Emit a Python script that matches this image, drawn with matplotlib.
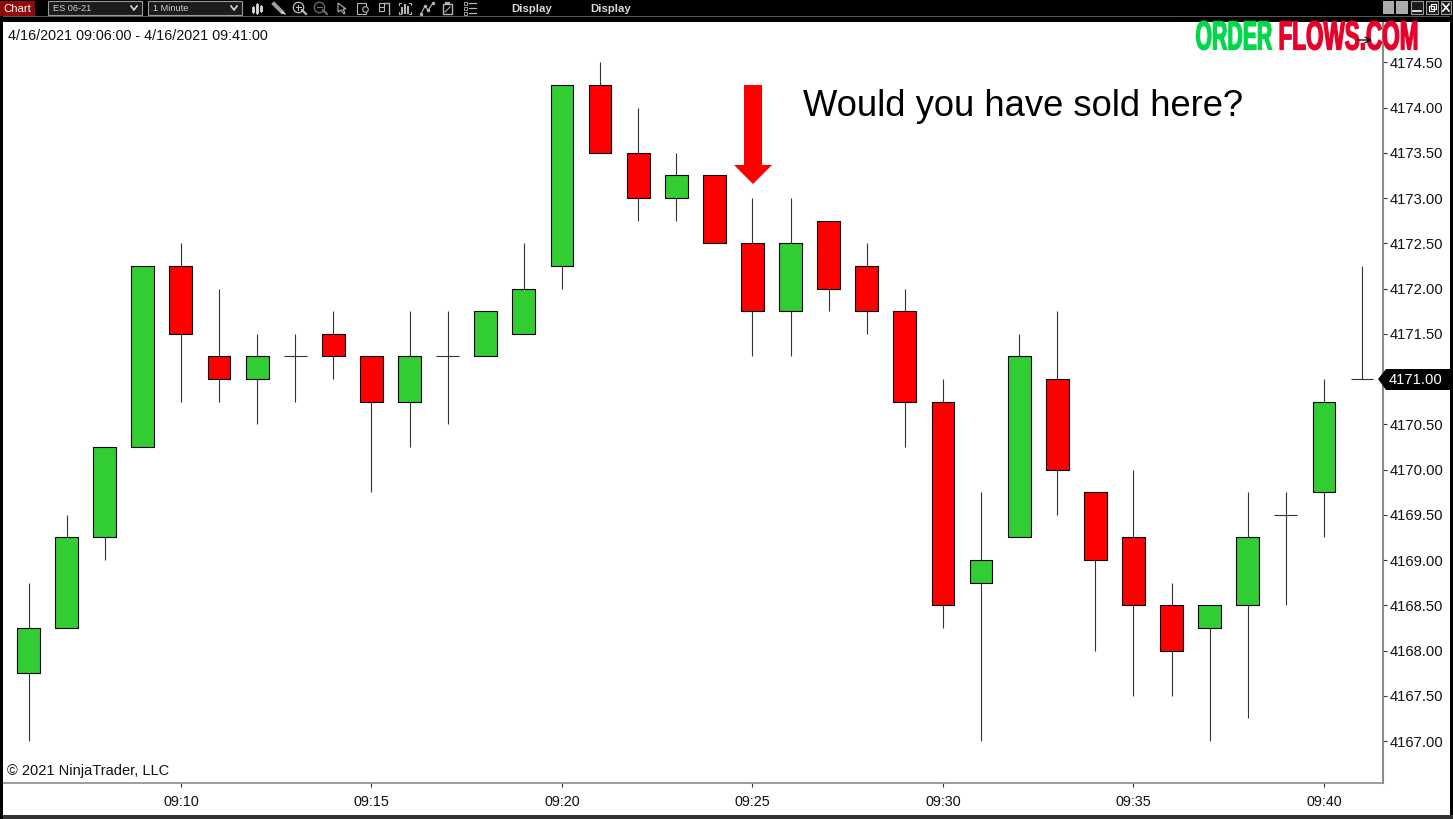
"""Recreate the ES 06-21 one minute NinjaTrader chart."""
import matplotlib
matplotlib.use("Agg")
import matplotlib.pyplot as plt
import matplotlib.patheffects as pe
from matplotlib.patches import Polygon, Rectangle
from matplotlib.transforms import Affine2D

plt.rcParams["font.family"] = ["Liberation Sans", "DejaVu Sans"]

W, H = 1453, 819

# one bar per minute, 09:06 to 09:41
minutes = list(range(6, 42))
opens = [4167.75, 4168.25, 4169.25, 4170.25, 4172.25, 4171.25, 4171.00, 4171.25, 4171.50,
         4171.25, 4170.75, 4171.25, 4171.25, 4171.50, 4172.25, 4174.25, 4173.50, 4173.00,
         4173.25, 4172.50, 4171.75, 4172.75, 4172.25, 4171.75, 4170.75, 4168.75, 4169.25,
         4171.00, 4169.75, 4169.25, 4168.50, 4168.25, 4168.50, 4169.50, 4169.75, 4171.00]
highs = [4168.75, 4169.50, 4170.25, 4172.25, 4172.50, 4172.00, 4171.50, 4171.50, 4171.75,
         4171.25, 4171.75, 4171.75, 4171.75, 4172.50, 4174.25, 4174.50, 4174.00, 4173.50,
         4173.25, 4173.00, 4173.00, 4172.75, 4172.50, 4172.00, 4171.00, 4169.75, 4171.50,
         4171.75, 4169.75, 4170.00, 4168.75, 4168.50, 4169.75, 4169.75, 4171.00, 4172.25]
lows = [4167.00, 4168.25, 4169.00, 4170.25, 4170.75, 4170.75, 4170.50, 4170.75, 4171.00,
        4169.75, 4170.25, 4170.50, 4171.25, 4171.50, 4172.00, 4173.50, 4172.75, 4172.75,
        4172.50, 4171.25, 4171.25, 4171.75, 4171.50, 4170.25, 4168.25, 4167.00, 4169.25,
        4169.50, 4168.00, 4167.50, 4167.50, 4167.00, 4167.25, 4168.50, 4169.25, 4171.00]
closes = [4168.25, 4169.25, 4170.25, 4172.25, 4171.50, 4171.00, 4171.25, 4171.25, 4171.25,
          4170.75, 4171.25, 4171.25, 4171.75, 4172.00, 4174.25, 4173.50, 4173.00, 4173.25,
          4172.50, 4171.75, 4172.50, 4172.00, 4171.75, 4170.75, 4168.50, 4169.00, 4171.25,
          4170.00, 4169.00, 4168.50, 4168.00, 4168.50, 4169.25, 4169.50, 4170.75, 4171.00]

price_ticks = [4167.0 + 0.5 * i for i in range(16)]
time_ticks = [10, 15, 20, 25, 30, 35, 40]
time_labels = ["09:10", "09:15", "09:20", "09:25", "09:30", "09:35", "09:40"]
last_price = 4171.00

UP = "#32CD32"
DOWN = "#FF0000"
GREY = "#8c8c8c"
ICON = "#b4b4b4"


class StretchY(pe.AbstractPathEffect):
    """Stretch drawn text vertically about its baseline and fatten it, the logo font is tall and heavy."""

    def __init__(self, y0, sy, lw, color):
        super().__init__()
        self.y0, self.sy, self.lw, self.color = y0, sy, lw, color

    def draw_path(self, renderer, gc, tpath, affine, rgbFace=None):
        stretch = Affine2D().translate(0, -self.y0).scale(1, self.sy).translate(0, self.y0)
        gc0 = renderer.new_gc()
        gc0.copy_properties(gc)
        gc0.set_linewidth(self.lw)
        gc0.set_foreground(self.color)
        renderer.draw_path(gc0, tpath, affine + stretch, rgbFace)
        gc0.restore()


fig = plt.figure(figsize=(W / 100, H / 100), dpi=100, facecolor="white")

# ── price pane ────────────────────────────────────────────
ax = fig.add_axes([3 / W, 1 - 783 / H, 1380 / W, 761 / H])
ax.set_xlim(5.33, 41.55)
ax.set_ylim(4166.536, 4174.946)
ax.set_facecolor("white")

for m, o, h, l, c in zip(minutes, opens, highs, lows, closes):
    ax.vlines(m, l, h, color="#333333", lw=0.8, zorder=2)
    if o == c:
        ax.hlines(o, m - 0.3, m + 0.3, color="#333333", lw=0.8, zorder=3)
    else:
        ax.bar(m, abs(c - o), bottom=min(o, c), width=0.6, zorder=3,
               color=UP if c > o else DOWN, edgecolor="black", linewidth=0.8)

ax.spines["top"].set_visible(False)
ax.spines["left"].set_visible(False)
ax.spines["right"].set_color(GREY)
ax.spines["bottom"].set_color(GREY)
ax.spines["right"].set_linewidth(1.5)
ax.spines["bottom"].set_linewidth(1.2)
ax.yaxis.tick_right()
ax.set_yticks(price_ticks)
ax.set_yticklabels([f"{p:.2f}" for p in price_ticks])
ax.set_xticks(time_ticks)
ax.set_xticklabels(time_labels)
ax.tick_params(axis="y", length=3, width=0.8, pad=1.5, labelsize=10.6, labelcolor="#111111", color="#333333")
ax.tick_params(axis="x", length=3, width=0.8, pad=6, labelsize=10.4, labelcolor="#111111", color="#333333")

# ── overlay in pixel coordinates for window chrome and annotations ────
ov = fig.add_axes([0, 0, 1, 1], zorder=5)
ov.set_xlim(0, W)
ov.set_ylim(H, 0)
ov.axis("off")
ov.patch.set_alpha(0)

# window frame
ov.add_patch(Rectangle((0, 0), W, 22, color="black", lw=0))
ov.add_patch(Rectangle((0, 16), W, 1.4, color="#555555", lw=0))
ov.add_patch(Rectangle((0, 0), 3, H, color="black", lw=0))
ov.add_patch(Rectangle((1450, 0), 3, H, color="black", lw=0))
ov.add_patch(Rectangle((3, 815), W, 4, color="#333333", lw=0))

# toolbar
ov.add_patch(Rectangle((0, 1), 35, 14.5, color="#8f0a0a", lw=0))
ov.text(3, 8.5, "Chart", color="white", fontsize=8.2, va="center")
for x0, label in [(48, "ES 06-21"), (148, "1 Minute")]:
    ov.add_patch(Rectangle((x0, 1), 94, 14, fc="#1c1c1c", ec="#9a9a9a", lw=0.8))
    ov.text(x0 + 5, 8.5, label, color="#cfcfcf", fontsize=6.6, va="center")
    ov.plot([x0 + 83, x0 + 86, x0 + 89], [6, 10, 6], color="#d8d8d8", lw=1.2)
for x in [511, 590]:
    ov.text(x, 8.5, "Display", color="#d8d8d8", fontsize=8.2, fontweight="bold", va="center")

# toolbar icons, just rough glyphs
for x, y0, y1 in [(253, 6, 13), (257, 3, 14), (261, 5, 12)]:
    ov.plot([x, x], [y0, y1], color=ICON, lw=0.8)
    ov.plot([x, x], [y0 + 2, y1 - 2], color="#dddddd", lw=2)
ov.plot([274, 282], [4, 12], color="#a0a0a0", lw=2.8)
ov.plot([282, 285], [12, 14], color="#dddddd", lw=1)
for x, col, plus in [(298, "#c0c0c0", True), (319, "#707070", False)]:
    ov.plot(x, 7, "o", mfc="none", mec=col, ms=7.5, mew=0.9)
    ov.plot([x + 4, x + 8], [10, 14], color=col, lw=1.5)
    ov.plot([x - 2.5, x + 2.5], [7, 7], color=col, lw=0.8)
    if plus:
        ov.plot([x, x], [4.5, 9.5], color=col, lw=0.8)
ov.add_patch(Polygon([(338, 3), (338, 12), (341, 10), (344, 14), (345, 13), (343, 9), (346, 9)],
                     fc="none", ec=ICON, lw=0.8))
ov.add_patch(Rectangle((357, 3), 9, 11, fc="none", ec=ICON, lw=0.8))
ov.plot(365, 9, "o", mfc="black", mec=ICON, ms=4, mew=0.8)
ov.add_patch(Rectangle((379, 3), 5, 3.5, fc="none", ec=ICON, lw=0.8))
ov.add_patch(Rectangle((379, 7), 5, 3.5, fc="none", ec=ICON, lw=0.8))
ov.plot([384, 389, 389], [3, 3, 14], color=ICON, lw=1)
for x, y0 in [(402, 8), (405, 5), (408, 7)]:
    ov.plot([x, x], [y0, 13], color=ICON, lw=1.5)
for xs, ys in [([399, 399, 401], [5, 3, 3]), ([409, 411, 411], [3, 3, 5]),
               ([399, 399, 401], [12, 14, 14]), ([409, 411, 411], [14, 14, 12])]:
    ov.plot(xs, ys, color=ICON, lw=0.8)
ov.plot([421, 425, 428, 433], [14, 6, 10, 3], color=ICON, lw=0.8, marker="o", ms=1.5)
ov.add_patch(Rectangle((443, 4), 9, 10, fc="none", ec=ICON, lw=1))
ov.plot([445, 450], [12, 7], color=ICON, lw=0.8)
ov.plot([446, 449], [3, 3], color=ICON, lw=1.5)
for y in [3, 8, 13]:
    ov.add_patch(Rectangle((464, y - 1), 2.5, 2.5, fc="none", ec=ICON, lw=0.6))
    ov.plot([469, 476], [y, y], color=ICON, lw=0.9)

# window buttons
for x, w in [(1383, 11), (1396, 12)]:
    ov.add_patch(Rectangle((x, 1), w, 13, fc="#ababab", lw=0))
for x, w in [(1411, 12), (1426, 12), (1441, 10)]:
    ov.add_patch(Rectangle((x, 1), w, 13, fc="#1a1a1a", ec="#9a9a9a", lw=0.8))
ov.plot([1413, 1421], [11, 11], color="white", lw=1.2)
ov.add_patch(Rectangle((1429, 6), 5, 5, fc="none", ec="white", lw=0.8))
ov.add_patch(Rectangle((1431, 4), 5, 5, fc="none", ec="white", lw=0.8))
ov.plot([1443, 1449], [4, 11], color="white", lw=1.2)
ov.plot([1443, 1449], [11, 4], color="white", lw=1.2)

# pane texts
ov.text(8, 35.5, "4/16/2021 09:06:00 - 4/16/2021 09:41:00", fontsize=10.4, va="center", color="#111111")
ov.text(7, 770.5, "\u00a9 2021 NinjaTrader, LLC", fontsize=10.5, va="center", color="#111111")
ov.text(803, 107, "Would you have sold here?", fontsize=26.2, va="center", color="black")

# the arrow
ov.add_patch(Polygon([(744, 85), (762, 85), (762, 165), (772, 165), (753, 184),
                      (734, 165), (744, 165)], color="#FF0000", lw=0))

# logo, baseline at y=50 from the top
t1 = ov.text(1195.5, 49.5, "ORDER", color="#00D84A", fontsize=15.3, fontweight="bold",
             ha="left", va="baseline")
t1.set_path_effects([StretchY(H - 49.5, 1.92, 0.9, "#00D84A")])
t2 = ov.text(1278.5, 49.5, "FLOWS.COM", color="#E8002A", fontsize=16.2, fontweight="bold",
             ha="left", va="baseline")
t2.set_path_effects([StretchY(H - 49.5, 1.81, 0.9, "#E8002A")])
ov.annotate("", xy=(1372, 40), xytext=(1358, 40),
            arrowprops=dict(arrowstyle="->", color="black", lw=0.9, shrinkA=0, shrinkB=0))

# last price tag
ov.add_patch(Polygon([(1378, 379), (1386, 369), (1450, 369), (1450, 390), (1386, 390)],
                     color="black", lw=0))
ov.text(1389, 379.5, f"{last_price:.2f}", color="white", fontsize=10.6, va="center")

fig.savefig("out.png", dpi=100, facecolor="white")
